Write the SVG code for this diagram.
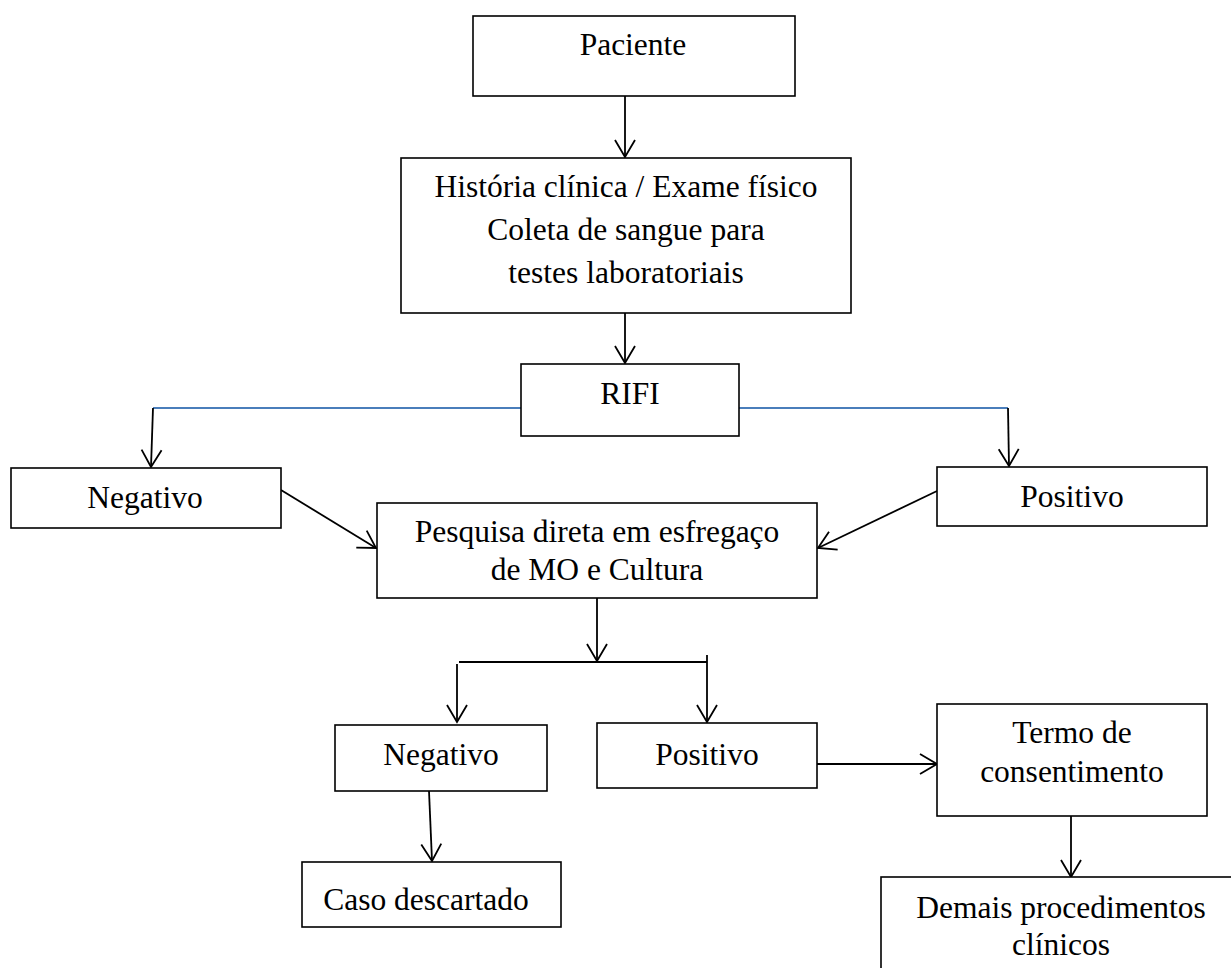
<svg xmlns="http://www.w3.org/2000/svg" width="1231" height="968" viewBox="0 0 1231 968">
<style>
rect.box{fill:#fff;stroke:#000;stroke-width:1.6}
text{font-family:"Liberation Serif","Times New Roman",serif;font-size:31.5px;fill:#000;text-anchor:middle}
.c{fill:none;stroke:#000;stroke-width:1.8}
.blue{fill:none;stroke:#4a7ebb;stroke-width:2}
</style>
<defs>
<marker id="ah" markerUnits="userSpaceOnUse" markerWidth="24" markerHeight="24" viewBox="-20 -12 24 24" refX="0" refY="0" orient="auto">
<path d="M-17,-10 L0,0 L-17,10" fill="none" stroke="#000" stroke-width="1.8"/>
</marker>
</defs>
<rect width="1231" height="968" fill="#fff"/>
<g id="connectors">
<line class="c" x1="625" y1="96" x2="625" y2="157" marker-end="url(#ah)"/>
<line class="c" x1="625" y1="313" x2="625" y2="363" marker-end="url(#ah)"/>
<line class="blue" x1="153" y1="408" x2="521" y2="408"/>
<line class="blue" x1="739" y1="408" x2="1008" y2="408"/>
<line class="c" x1="153" y1="408" x2="151" y2="467" marker-end="url(#ah)"/>
<line class="c" x1="1008" y1="408" x2="1009" y2="466" marker-end="url(#ah)"/>
<line class="c" x1="281" y1="490" x2="376" y2="548" marker-end="url(#ah)"/>
<line class="c" x1="937" y1="491" x2="818" y2="548" marker-end="url(#ah)"/>
<line class="c" x1="597" y1="598" x2="597" y2="661" marker-end="url(#ah)"/>
<line class="c" x1="459" y1="662" x2="707" y2="662"/>
<line class="c" x1="457" y1="664" x2="457" y2="722" marker-end="url(#ah)"/>
<line class="c" x1="707" y1="655" x2="707" y2="722" marker-end="url(#ah)"/>
<line class="c" x1="429" y1="791" x2="432" y2="861" marker-end="url(#ah)"/>
<line class="c" x1="817" y1="764" x2="937" y2="764" marker-end="url(#ah)"/>
<line class="c" x1="1071" y1="816" x2="1071" y2="877" marker-end="url(#ah)"/>
</g>
<g id="paciente"><rect class="box" x="473" y="16" width="322" height="80"/><text x="633" y="55">Paciente</text></g>
<g id="historia"><rect class="box" x="401" y="158" width="450" height="155"/>
<text x="626" y="197">História clínica / Exame físico</text>
<text x="626" y="240">Coleta de sangue para</text>
<text x="626" y="283">testes laboratoriais</text></g>
<g id="rifi"><rect class="box" x="521" y="364" width="218" height="72"/><text x="630" y="404">RIFI</text></g>
<g id="negativo1"><rect class="box" x="11" y="468" width="270" height="60"/><text x="145" y="508">Negativo</text></g>
<g id="positivo1"><rect class="box" x="937" y="467" width="270" height="59"/><text x="1072" y="507">Positivo</text></g>
<g id="pesquisa"><rect class="box" x="377" y="503" width="440" height="95"/>
<text x="597" y="542">Pesquisa direta em esfregaço</text>
<text x="597" y="580">de MO e Cultura</text></g>
<g id="negativo2"><rect class="box" x="335" y="725" width="212" height="66"/><text x="441" y="765">Negativo</text></g>
<g id="positivo2"><rect class="box" x="597" y="723" width="220" height="65"/><text x="707" y="765">Positivo</text></g>
<g id="termo"><rect class="box" x="937" y="704" width="270" height="112"/>
<text x="1072" y="743">Termo de</text>
<text x="1072" y="782">consentimento</text></g>
<g id="demais"><rect class="box" x="881" y="877" width="360" height="100"/>
<text x="1061" y="918">Demais procedimentos</text>
<text x="1061" y="955">clínicos</text></g>
<g id="caso"><rect class="box" x="302" y="862" width="259" height="65"/><text x="426" y="910">Caso descartado</text></g>
</svg>
